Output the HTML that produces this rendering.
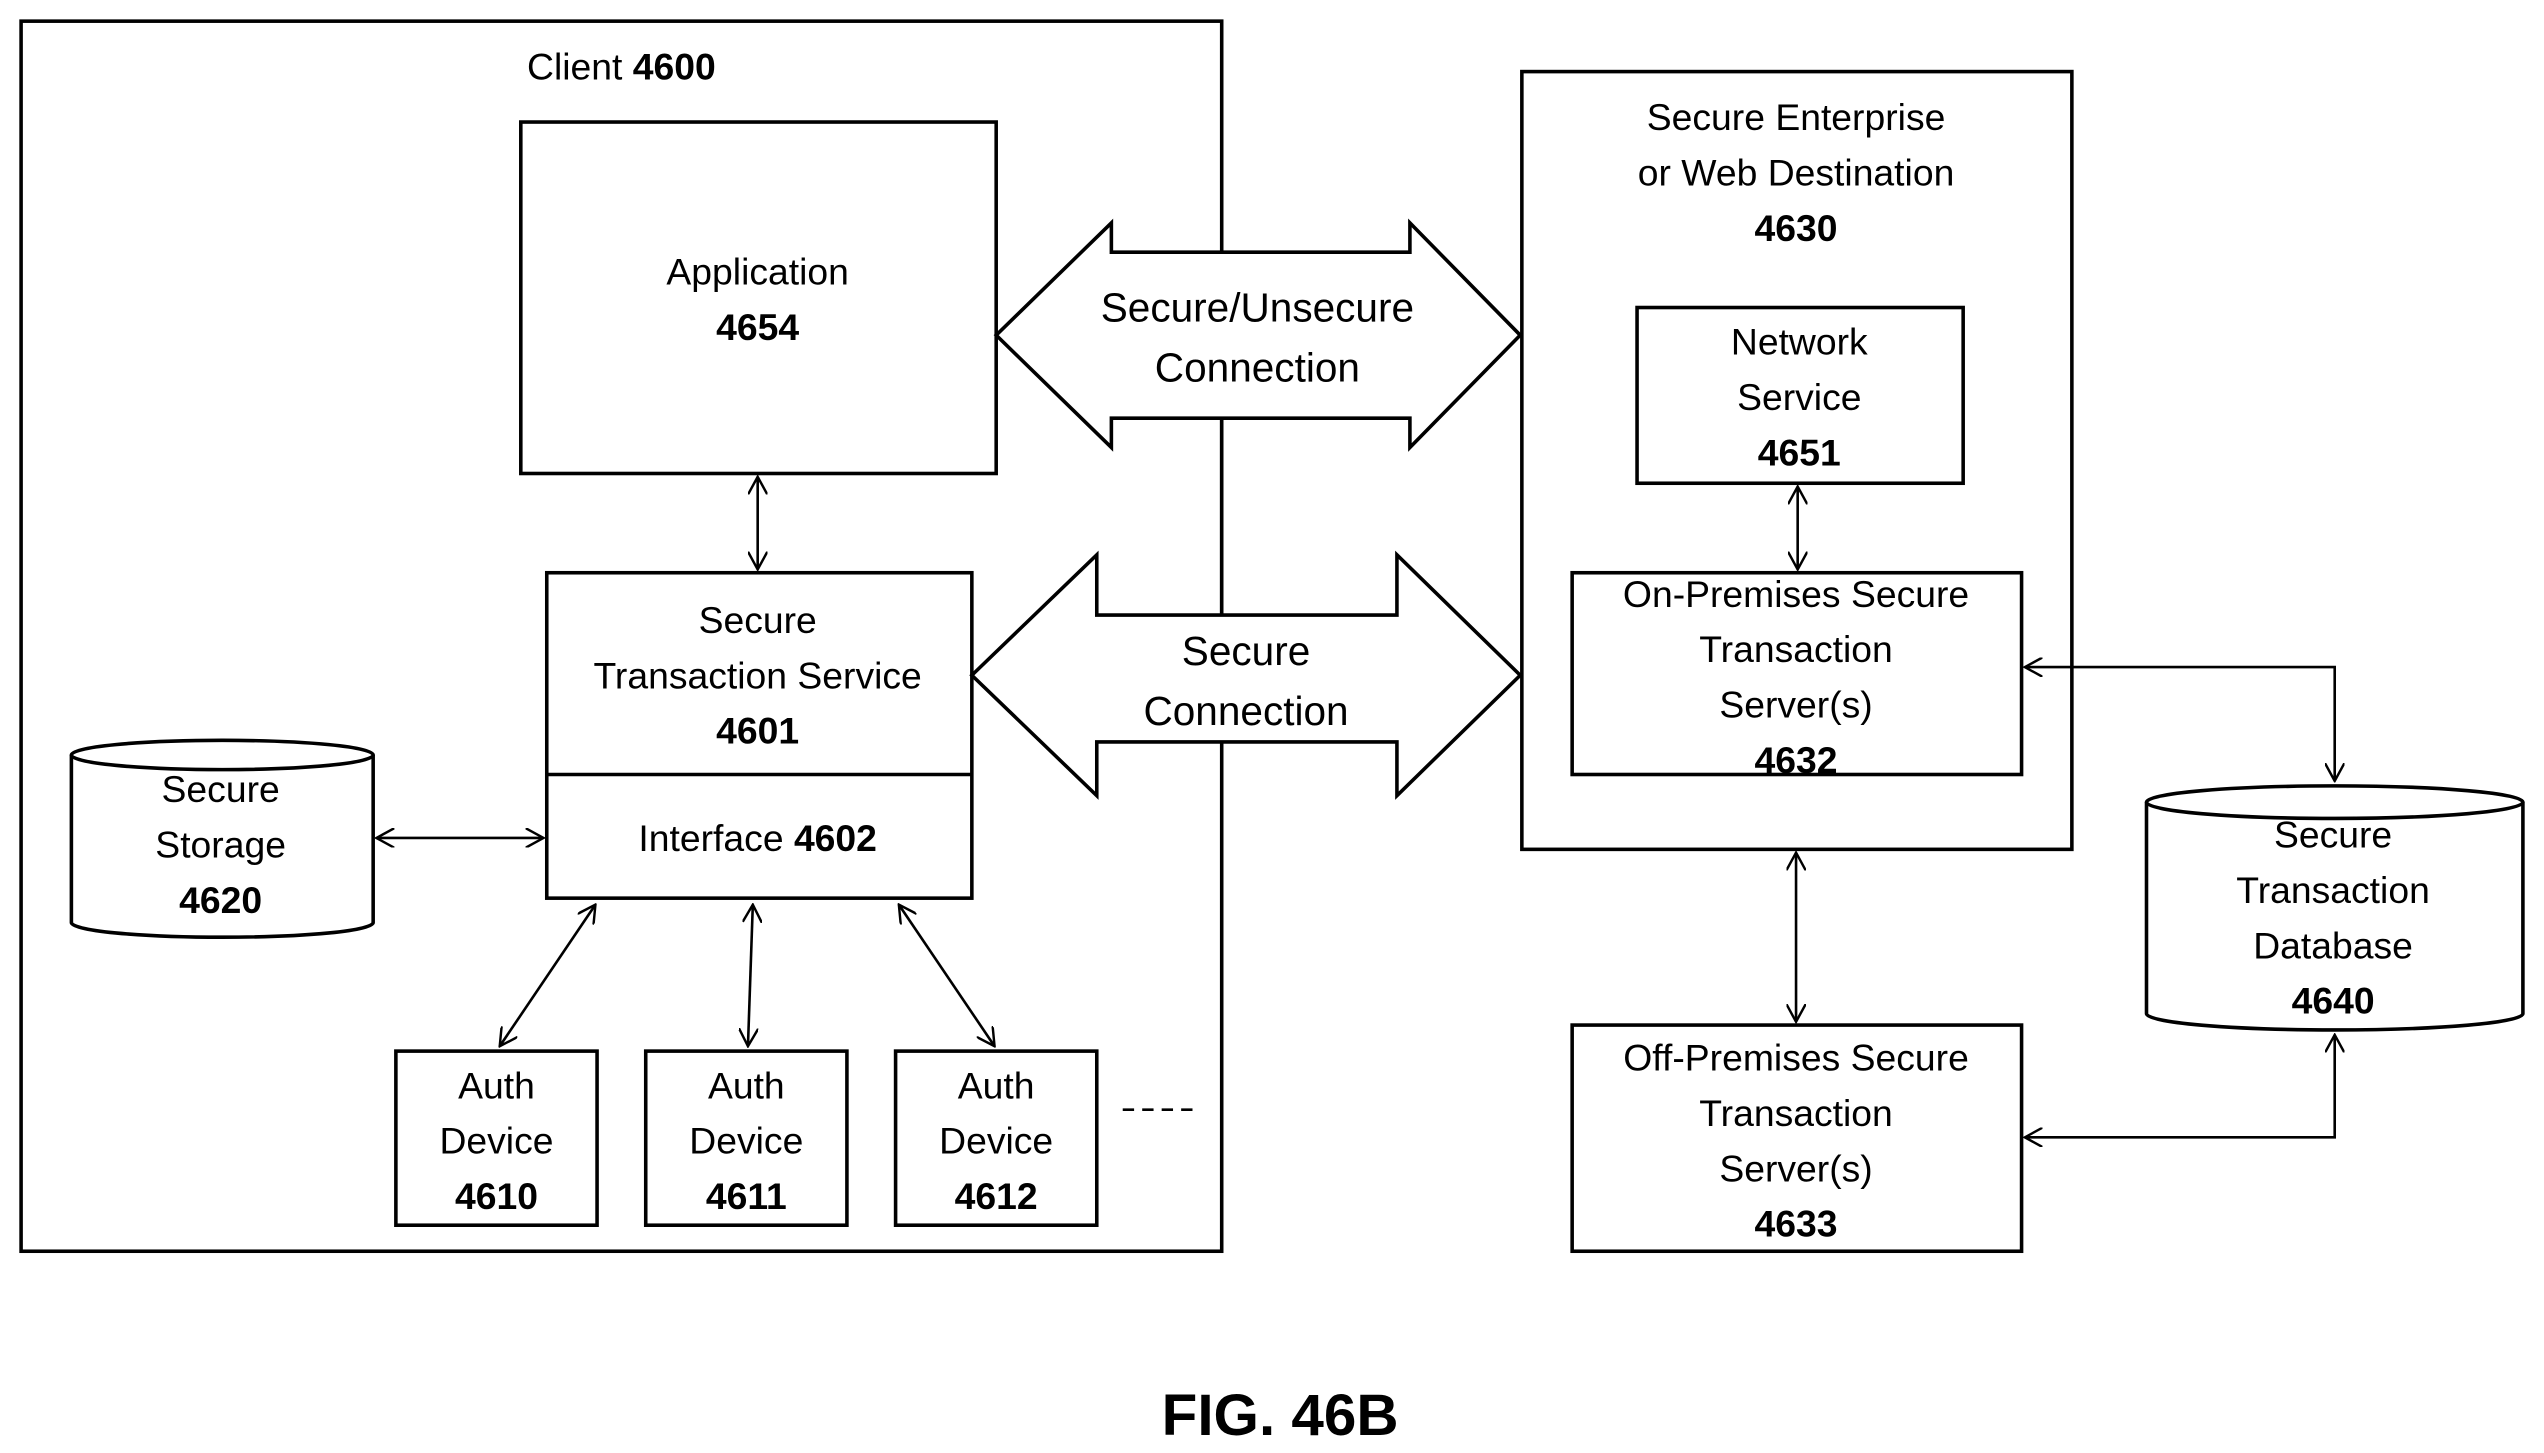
<!DOCTYPE html>
<html><head><meta charset="utf-8"><style>html,body{margin:0;padding:0;background:#fff}svg{display:block}</style></head>
<body>
<svg width="2544" height="1453" viewBox="0 0 1568 893" preserveAspectRatio="none" xmlns="http://www.w3.org/2000/svg">
<defs>
<marker id="a" viewBox="0 0 12 12" refX="11" refY="6" markerWidth="12" markerHeight="12" markerUnits="userSpaceOnUse" orient="auto-start-reverse">
<path d="M0,0 L11,6 L0,12" fill="none" stroke="#000" stroke-width="1.5"/></marker>
</defs>
<g fill="none" stroke="#000" stroke-width="2.2">
<rect x="13" y="13" width="740" height="756"/>
<rect x="321" y="75" width="293" height="216"/>
<rect x="337" y="352" width="262" height="200"/>
<line x1="337" y1="476" x2="599" y2="476"/>
<rect x="244" y="646" width="124" height="107"/>
<rect x="398" y="646" width="124" height="107"/>
<rect x="552" y="646" width="124" height="107"/>
<rect x="938" y="44" width="339" height="478"/>
<rect x="1009" y="189" width="201" height="108"/>
<rect x="969" y="352" width="277" height="124"/>
<rect x="969" y="630" width="277" height="139"/>
<path d="M44,464 L44,567 A93,9 0 0 0 230,567 L230,464" fill="#fff"/>
<ellipse cx="137" cy="464" rx="93" ry="9" fill="#fff"/>
<path d="M1323,493 L1323,623 A116,10 0 0 0 1555,623 L1555,493" fill="#fff"/>
<ellipse cx="1439" cy="493" rx="116" ry="10" fill="#fff"/>
<path d="M614,206 L685,137 L685,155 L869,155 L869,137 L937,206 L869,275 L869,257 L685,257 L685,275 Z" fill="#fff"/>
<path d="M599,415 L676,341 L676,378 L861,378 L861,341 L937,415 L861,489 L861,456 L676,456 L676,489 Z" fill="#fff"/>
</g>
<g fill="none" stroke="#000" stroke-width="1.6">
<line x1="753" y1="257" x2="753" y2="378" stroke-width="2.2"/>
<line x1="467" y1="293" x2="467" y2="350" marker-start="url(#a)" marker-end="url(#a)"/>
<line x1="232" y1="515" x2="335" y2="515" marker-start="url(#a)" marker-end="url(#a)"/>
<line x1="367" y1="556" x2="308" y2="643" marker-start="url(#a)" marker-end="url(#a)"/>
<line x1="464" y1="556" x2="461" y2="643" marker-start="url(#a)" marker-end="url(#a)"/>
<line x1="554" y1="556" x2="613" y2="643" marker-start="url(#a)" marker-end="url(#a)"/>
<line x1="1108" y1="299" x2="1108" y2="350" marker-start="url(#a)" marker-end="url(#a)"/>
<line x1="1107" y1="524" x2="1107" y2="628" marker-start="url(#a)" marker-end="url(#a)"/>
<path d="M1248,410 L1439,410 L1439,480" marker-start="url(#a)" marker-end="url(#a)"/>
<path d="M1248,699 L1439,699 L1439,636" marker-start="url(#a)" marker-end="url(#a)"/>
<line x1="692" y1="682" x2="738" y2="682" stroke-dasharray="7,5"/>
</g>
<g font-family="Liberation Sans, sans-serif" font-size="23" text-anchor="middle" dominant-baseline="central" fill="#000">
<text x="383" y="41">Client <tspan font-weight="bold">4600</tspan></text>
<text x="467" y="167">Application</text><text x="467" y="201" font-weight="bold">4654</text>
<text x="467" y="381">Secure</text><text x="467" y="415">Transaction Service</text><text x="467" y="449" font-weight="bold">4601</text>
<text x="467" y="515">Interface <tspan font-weight="bold">4602</tspan></text>
<text x="136" y="485">Secure</text><text x="136" y="519">Storage</text><text x="136" y="553" font-weight="bold">4620</text>
<text x="306" y="667">Auth</text><text x="306" y="701">Device</text><text x="306" y="735" font-weight="bold">4610</text>
<text x="460" y="667">Auth</text><text x="460" y="701">Device</text><text x="460" y="735" font-weight="bold">4611</text>
<text x="614" y="667">Auth</text><text x="614" y="701">Device</text><text x="614" y="735" font-weight="bold">4612</text>
<text x="775" y="189" font-size="25">Secure/Unsecure</text><text x="775" y="226" font-size="25">Connection</text>
<text x="768" y="400" font-size="25">Secure</text><text x="768" y="437" font-size="25">Connection</text>
<text x="1107" y="72">Secure Enterprise</text><text x="1107" y="106">or Web Destination</text><text x="1107" y="140" font-weight="bold">4630</text>
<text x="1109" y="210">Network</text><text x="1109" y="244">Service</text><text x="1109" y="278" font-weight="bold">4651</text>
<text x="1107" y="365">On-Premises Secure</text><text x="1107" y="399">Transaction</text><text x="1107" y="433">Server(s)</text><text x="1107" y="467" font-weight="bold">4632</text>
<text x="1438" y="513">Secure</text><text x="1438" y="547">Transaction</text><text x="1438" y="581">Database</text><text x="1438" y="615" font-weight="bold">4640</text>
<text x="1107" y="650">Off-Premises Secure</text><text x="1107" y="684">Transaction</text><text x="1107" y="718">Server(s)</text><text x="1107" y="752" font-weight="bold">4633</text>
<text x="789" y="870" font-size="36" font-weight="bold">FIG. 46B</text>
</g>
</svg>
</body></html>
